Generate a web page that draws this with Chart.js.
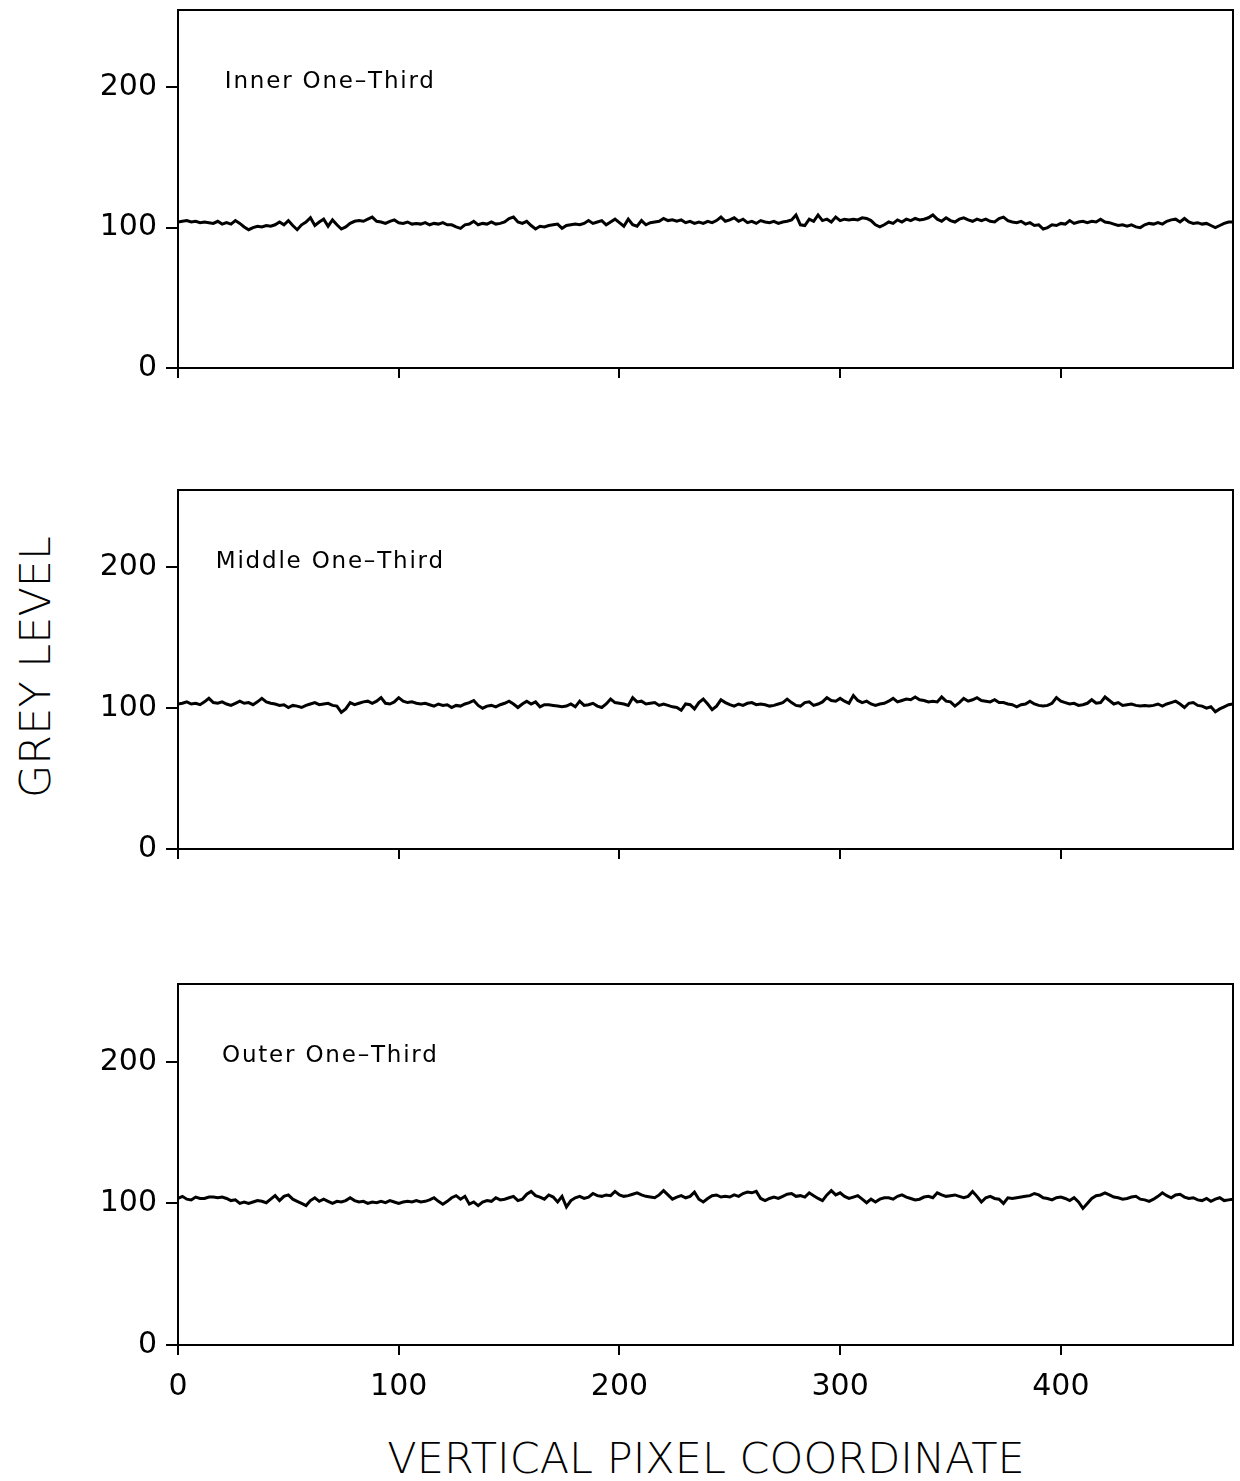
<!DOCTYPE html>
<html><head><meta charset="utf-8">
<script src="https://cdn.jsdelivr.net/npm/chart.js@4.4.1/dist/chart.umd.min.js"></script>
<style>
html,body{margin:0;padding:0;background:#fff;}
#wrap{position:relative;width:1240px;height:1481px;overflow:hidden;background:#fff;}
.pane{position:absolute;left:0;width:1240px;}
.ytitle{position:absolute;left:35px;top:667px;transform:translate(-50%,-50%) rotate(-90deg);font-family:"DejaVu Sans",sans-serif;font-size:43px;font-weight:200;white-space:nowrap;color:#000;}
.xtitle{position:absolute;left:706px;top:1458px;transform:translate(-50%,-50%);font-family:"DejaVu Sans",sans-serif;font-size:43px;font-weight:200;white-space:nowrap;color:#000;}
</style>
</head><body>
<div id="wrap">
  <div class="ytitle">GREY LEVEL</div>
  <div class="xtitle">VERTICAL PIXEL COORDINATE</div>
</div>
<script>
// ---- data ----
const panelLabels = ["Inner One–Third", "Middle One–Third", "Outer One–Third"];
const xTickValues = [0, 100, 200, 300, 400];
const yTickValues = [0, 100, 200];
const sampleStep = 2; // one sample every 2 pixel coordinates

const innerValues = [
104,104.5,105,104,104.5,103.5,104,103.5,103,104.5,
102.5,103.5,102.5,105,103,100.5,98.5,100,101,100.5,
101.5,101,102,104,102,105,101.5,98.5,102,104,
107,101.5,104,106,101,105.5,102,99,100.5,103,
104.5,105,104.5,106,107.5,104.5,104,103,104.5,105.5,
103.5,103,104,102.5,103,102.5,103.5,102,103,102.5,
103.5,102,102,100.5,99.5,102,102.5,104.5,102,103,
102.5,104,102.5,103,104,106.5,107.5,104,103,104.5,
101.5,99,101,100.5,101.5,102,102.5,99.5,101.5,102,
102.5,102,103,105,103,104,105,102,104,106,
103.5,101,106,102,101,105,102,103.5,104,104.5,
106.5,105,105.5,104.5,105.5,103.5,104.5,103,104,103,
104.5,103.5,105,107.5,104.5,105.5,107,104.5,106,103.5,
104.5,103,105,104,103.5,104.5,103,104,104.5,105.5,
109,102,101.5,106,104.5,109,105,106,104,107.5,
105,106,105.5,106,105.5,107,106.5,105,102,
100.5,102,104,103,105.5,104,106,105,106.5,105.5,
106,107,109,106,104.5,107,105,104,106,107,
105.5,104.5,106,105,106,104.5,104,106.5,107.5,105,
104,103.5,104.5,102.5,103.5,101.5,102,99,100,102,
101.5,103,102.5,105,103,104,104.5,103.5,104.5,104,
106,104,103.5,102.5,101.5,102,101,102,100.5,100,
102,103,102.5,103.5,102.5,104.5,105.5,106,104,106.5,
104,103,103.5,102.5,103,101.5,100,101.5,103,104,
104
];

const middleValues = [
103,103.5,104.5,103,103.5,102.5,104.5,107,104,103.5,
104.5,103,102,103.5,105,103.5,104,102.5,104.5,107,
104.5,103.5,103,102,102.5,100.5,102,101.5,100.5,102,
103,104,102.5,103,103.5,102,101.5,97,99.5,104,
102.5,103.5,104.5,105,103.5,105,107.5,103.5,103,104.5,
107.5,105,104,104.5,103.5,103,103.5,102.5,101.5,103,
102,102.5,100.5,102,101.5,103,104,105.5,102,100,
101.5,102,101,102.5,103.5,105,103,100.5,103,105,
103,104.5,101,102.5,102.5,102,101.5,101,101.5,103,
101,105,102,102.5,103.5,101.5,100.5,103,106.5,104,
103.5,103,102,107.5,104.5,105,103,103.5,104,102,
103,102,101,100.5,98.5,103,102.5,99.5,104,106.5,
103,99,101.5,106,104,102.5,101.5,103,102,103.5,
104,102.5,103,102.5,101.5,102,103,104,106.5,104,
102,101.5,104,104.5,102,103,104.5,107.5,105.5,105,
107,105,103.5,109,105.5,104,105,103,102,
103,103.5,105,107,104.5,105.5,106.5,106,108,106,
105.5,104.5,105,104.5,108,105,104.5,101.5,104,107,
105,106,107.5,105.5,105,104.5,106,104,104,103,
102.5,101,102.5,103,105,103,102,101.5,102,103.5,
107.5,105,104,103,103.5,102,102.5,103.5,106,103.5,
104,108,105.5,103,104,102,102.5,103,102,101.5,
102,101.5,102,103,101.5,103,104,105,103,100.5,
103.5,104,102,101.5,100,101,97.5,99.5,101,102.5,
103
];

const outerValues = [
103.5,105,103,102.5,104.5,103.5,103.5,104.5,104.5,104,
104.5,103.5,102,102.5,100,101,100,101,102,101.5,
100.5,103,105.5,102,105,106,103,101.5,100,98.5,
102,104,101.5,103,101.5,100,101.5,101,102,104,
102,101,101.5,100,101,100.5,101.5,100.5,102,101,
100,101,101.5,101,102,101,101.5,102.5,104,101.5,
99.5,101.5,104,105.5,103,105,99.5,101,98.5,101,
102,101.5,104,102.5,103,104,105,102,103,106.5,
108.5,105.5,104.5,103,106,104.5,101,105,97.5,102,
104,105,103.5,104.5,107,105.5,105,106,105.5,108.5,
106,105,105.5,106.5,107.5,106,105,104.5,104,106,
109,106,103,104.5,105.5,104,105,108,103,101,
103.5,105.5,106,104.5,105,104.5,106,105,107,108,
107.5,108.5,103.5,102,103.5,104.5,103.5,105,106.5,107,
105,105.5,104.5,107.5,105.5,103.5,102,106,109,106,
107.5,105,103.5,104.5,105.5,103,100.5,103,101,
103,104,104,103,105,106,104.5,103.5,102.5,103,
104.5,105,104,107.5,106,105,105.5,106,105,104,
105,108.5,105,101,104,105,103.5,103,100,104,
103.5,104,104.5,105,105.5,107,106,104,103.5,102.5,
104,104.5,103.5,102,104,101,96.5,100,103.5,105.5,
106,107.5,106,104.5,104,103,103.5,104.5,105,103,
102.5,101.5,103,105,107.5,105.5,104,106,106.5,104.5,
103.5,104,102.5,102,103.5,101.5,103,104,102,102.5,
103
];

const seriesList = [innerValues, middleValues, outerValues];

// ---- layout (pixel geometry of each panel's plot box) ----
const panes = [
  {top: 10,  bottom: 368,  axisH: 22, labels: false},
  {top: 490, bottom: 849,  axisH: 22, labels: false},
  {top: 984, bottom: 1345, axisH: 75, labels: true}
];
const PAD_TOP = 10;
const Y_AXIS_W = 178;
const PAD_RIGHT = 7;

const boxPlugin = {
  id: 'box',
  afterDraw(chart, args, opts) {
    const {ctx, chartArea: a, scales} = chart;
    ctx.save();
    ctx.strokeStyle = '#000';
    ctx.lineWidth = 2;
    ctx.strokeRect(a.left, a.top, a.right - a.left, a.bottom - a.top);
    ctx.fillStyle = '#000';
    ctx.font = '23px "DejaVu Sans", sans-serif';
    try { ctx.letterSpacing = '1.8px'; } catch (e) {}
    ctx.textAlign = 'center';
    ctx.textBaseline = 'middle';
    ctx.fillText(opts.label, scales.x.getPixelForValue(69), scales.y.getPixelForValue(204));
    ctx.restore();
  }
};

function zeroPad(s) { s.paddingTop = 0; s.paddingBottom = 0; s.paddingLeft = 0; s.paddingRight = 0; }

const wrap = document.getElementById('wrap');
panes.forEach((p, i) => {
  const h = (p.bottom - p.top) + PAD_TOP + p.axisH;
  const div = document.createElement('div');
  div.className = 'pane';
  div.style.top = (p.top - PAD_TOP) + 'px';
  div.style.height = h + 'px';
  const cv = document.createElement('canvas');
  cv.width = 1240; cv.height = h;
  cv.style.width = '1240px'; cv.style.height = h + 'px';
  div.appendChild(cv);
  wrap.appendChild(div);

  const values = seriesList[i];
  new Chart(cv, {
    type: 'line',
    data: {
      datasets: [{
        data: values.map((v, k) => ({x: k * sampleStep, y: v})),
        borderColor: '#000',
        borderWidth: 3,
        pointRadius: 0,
        tension: 0,
        fill: false
      }]
    },
    options: {
      responsive: false,
      animation: false,
      devicePixelRatio: 1,
      layout: {padding: {top: PAD_TOP, right: PAD_RIGHT, left: 0, bottom: 0}},
      plugins: {
        legend: {display: false},
        tooltip: {enabled: false},
        box: {label: panelLabels[i]}
      },
      scales: {
        x: {
          type: 'linear', min: 0, max: 478,
          afterBuildTicks: s => { s.ticks = xTickValues.map(v => ({value: v})); },
          afterFit: s => { s.height = p.axisH; zeroPad(s); },
          grid: {display: true, drawOnChartArea: false, drawTicks: true, tickLength: 10, color: '#000', lineWidth: 2},
          border: {display: true, color: '#000', width: 2},
          ticks: {
            color: '#000', font: {family: 'DejaVu Sans', size: 30}, padding: 14,
            maxRotation: 0, autoSkip: false,
            callback: v => p.labels ? String(v) : ''
          }
        },
        y: {
          type: 'linear', min: 0, max: 255,
          afterBuildTicks: s => { s.ticks = yTickValues.map(v => ({value: v})); },
          afterFit: s => { s.width = Y_AXIS_W; zeroPad(s); },
          grid: {display: true, drawOnChartArea: false, drawTicks: true, tickLength: 12, color: '#000', lineWidth: 2},
          border: {display: true, color: '#000', width: 2},
          ticks: {color: '#000', font: {family: 'DejaVu Sans', size: 30}, padding: 9, autoSkip: false,
                  callback: v => String(v)}
        }
      }
    },
    plugins: [boxPlugin]
  });
});
</script>
</body></html>
